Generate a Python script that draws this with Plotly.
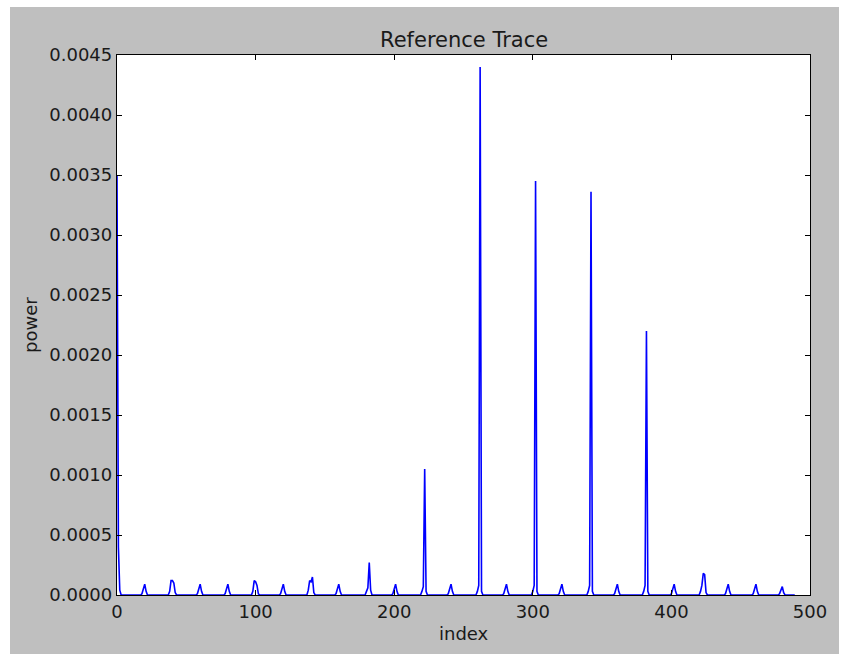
import plotly.graph_objects as go

# ---- data ----
n_points = 490
# first index of each peak's recorded values
peak_starts = [0, 18, 38, 58, 78, 98, 118, 138, 158, 180, 199, 220, 239,
               260, 279, 300, 319, 340, 359, 380, 400, 421, 439, 459, 478]
# power values from each start index onward (all other indices are 0)
peak_values = [
    [0.0035, 0.0004, 0.00004],
    [0.00001, 0.00005, 0.00009, 0.00003],
    [0.00003, 0.00012, 0.00012, 0.00010, 0.00002],
    [0.00001, 0.00005, 0.00009, 0.00003],
    [0.00001, 0.00005, 0.00009, 0.00003],
    [0.00003, 0.00012, 0.00011, 0.00008, 0.00001],
    [0.00001, 0.00005, 0.00009, 0.00003],
    [0.00004, 0.00012, 0.00011, 0.00015, 0.00002],
    [0.00001, 0.00005, 0.00009, 0.00003],
    [0.00003, 0.00006, 0.00027, 0.00004],
    [0.00001, 0.00005, 0.00009, 0.00003],
    [0.00003, 0.00007, 0.00105, 0.00003],
    [0.00001, 0.00005, 0.00009, 0.00003],
    [0.00003, 0.00008, 0.0044, 0.00003],
    [0.00001, 0.00005, 0.00009, 0.00003],
    [0.00003, 0.00008, 0.00345, 0.00003],
    [0.00001, 0.00005, 0.00009, 0.00003],
    [0.00003, 0.00008, 0.00336, 0.00003],
    [0.00001, 0.00005, 0.00009, 0.00003],
    [0.00003, 0.00008, 0.0022, 0.00003],
    [0.00001, 0.00005, 0.00009, 0.00003],
    [0.00003, 0.00008, 0.00018, 0.00017, 0.00002],
    [0.00001, 0.00005, 0.00009, 0.00003],
    [0.00001, 0.00005, 0.00009, 0.00003],
    [0.00001, 0.00004, 0.00007, 0.00002],
]
x_tick_vals = [0, 100, 200, 300, 400, 500]
y_tick_vals = [0.0, 0.0005, 0.0010, 0.0015, 0.0020, 0.0025, 0.0030, 0.0035, 0.0040, 0.0045]

power = [0.0] * n_points
for start, vals in zip(peak_starts, peak_values):
    for k, v in enumerate(vals):
        if start + k < n_points:
            power[start + k] = v
index = list(range(n_points))

# ---- figure ----
W, H = 849, 654
L, R, T, B = 117, 810, 55, 595
pw, ph = R - L, B - T

font_main = "DejaVu Sans"

fig = go.Figure()
fig.add_trace(go.Scatter(x=index, y=power, mode="lines",
                         line=dict(color="#0000ff", width=1.6),
                         hoverinfo="skip", showlegend=False))

axis_common = dict(
    showgrid=False, zeroline=False, showline=True, linecolor="black",
    linewidth=1.3, mirror="ticks", ticks="inside", ticklen=5,
    tickcolor="black", tickwidth=1,
    tickfont=dict(family=font_main, size=18, color="#1a1a1a"),
)

def px_x(p):
    return (p - L) / pw

def px_y(p):
    return (B - p) / ph

white_border = dict(fillcolor="white", line=dict(width=0), layer="below",
                    type="rect", xref="paper", yref="paper")

fig.update_layout(
    width=W, height=H,
    margin=dict(l=L, r=W - R, t=T, b=H - B, pad=0),
    paper_bgcolor="#bfbfbf",
    plot_bgcolor="white",
    xaxis=dict(range=[0, 500], tickvals=x_tick_vals,
               ticktext=[str(v) for v in x_tick_vals], **axis_common),
    yaxis=dict(range=[0, 0.0045], tickvals=y_tick_vals,
               ticktext=[f"{v:.4f}" for v in y_tick_vals], **axis_common),
    shapes=[
        dict(x0=px_x(-5), x1=px_x(W + 5), y0=px_y(7), y1=px_y(-5), **white_border),
        dict(x0=px_x(-5), x1=px_x(10), y0=px_y(H + 5), y1=px_y(-5), **white_border),
        dict(x0=px_x(839), x1=px_x(W + 5), y0=px_y(H + 5), y1=px_y(-5), **white_border),
        dict(type="rect", xref="x domain", yref="y domain",
             x0=0, x1=1, y0=0, y1=1,
             fillcolor="white", line=dict(width=0), layer="below"),
    ],
    annotations=[
        dict(text="Reference Trace", xref="paper", yref="paper",
             x=0.5, y=1, yshift=15, xanchor="center", yanchor="middle",
             showarrow=False, font=dict(family=font_main, size=21, color="#1a1a1a")),
        dict(text="index", xref="paper", yref="paper",
             x=0.5, y=0, yshift=-38, xanchor="center", yanchor="middle",
             showarrow=False, font=dict(family=font_main, size=18, color="#1a1a1a")),
        dict(text="power", xref="paper", yref="paper",
             x=0, y=0.5, xshift=-87, xanchor="center", yanchor="middle",
             textangle=-90, showarrow=False,
             font=dict(family=font_main, size=18, color="#1a1a1a")),
    ],
)

fig.write_html("out.html")
